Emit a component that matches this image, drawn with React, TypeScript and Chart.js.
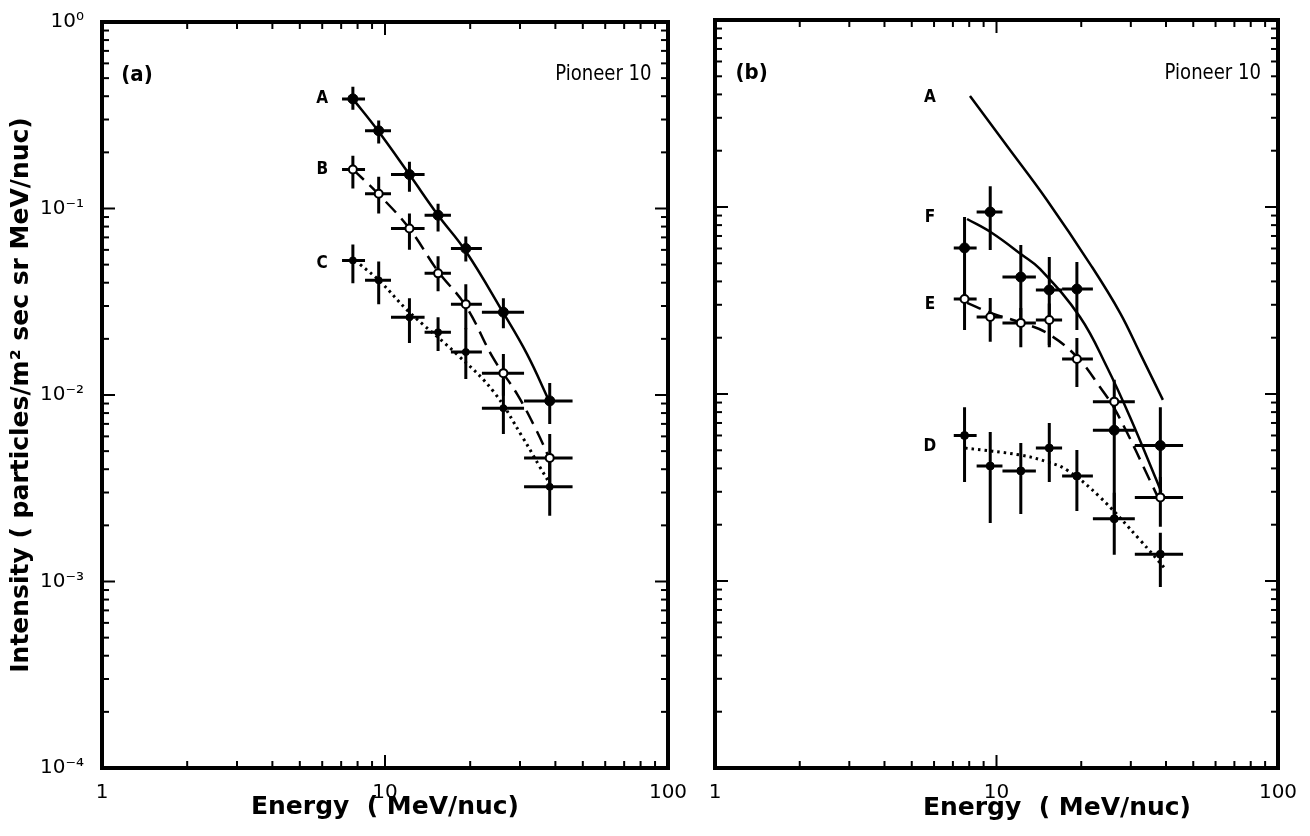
import React, { useEffect, useRef } from "react";
import { Chart, registerables } from "chart.js";
Chart.register(...registerables);

const FONT = "'DejaVu Sans', sans-serif";

// energy bins (MeV/nuc), shared by all series
const energy = [7.7, 9.5, 12.2, 15.4, 19.3, 26.2, 38.2];
const binLow = [7.05, 8.5, 10.5, 13.8, 17.1, 22.0, 31.0];
const binHigh = [8.5, 10.5, 13.8, 17.1, 22.0, 31.0, 46.0];

// ---- panel (a) ----
const aA = [0.387, 0.261, 0.152, 0.092, 0.061, 0.0278, 0.0093];
const aAlo = [0.338, 0.223, 0.123, 0.0753, 0.052, 0.0228, 0.007];
const aAhi = [0.449, 0.296, 0.178, 0.106, 0.0708, 0.033, 0.0116];
const aB = [0.162, 0.12, 0.0782, 0.0449, 0.0307, 0.0131, 0.0046];
const aBlo = [0.128, 0.094, 0.06, 0.036, 0.0225, 0.0099, 0.00334];
const aBhi = [0.192, 0.148, 0.094, 0.0554, 0.0392, 0.0166, 0.00618];
const aC = [0.0527, 0.0412, 0.0261, 0.0217, 0.017, 0.0085, 0.00322];
const aClo = [0.0397, 0.0307, 0.019, 0.0172, 0.0122, 0.00618, 0.00225];
const aChi = [0.0641, 0.052, 0.033, 0.0261, 0.0228, 0.0122, 0.00472];

const aCurveAx = [7.7, 9.45, 12.2, 15.4, 19.3, 26.1, 31.8, 38.0];
const aCurveAy = [0.387, 0.261, 0.152, 0.092, 0.059, 0.0278, 0.0165, 0.0093];
const aCurveBx = [7.7, 9.45, 12.2, 15.4, 19.3, 24.1, 29.3, 34.4, 38.0];
const aCurveBy = [0.162, 0.12, 0.078, 0.046, 0.03, 0.0158, 0.0101, 0.0064, 0.0046];
const aCurveCx = [8.16, 9.6, 12.1, 17.9, 24.1, 30.7, 35.3, 38.0];
const aCurveCy = [0.0502, 0.0407, 0.0281, 0.0166, 0.0105, 0.0059, 0.0041, 0.0034];

// ---- panel (b) ----
const bF = [0.0604, 0.094, 0.0422, 0.036, 0.0364, 0.0064, 0.0053];
const bFlo = [0.033, 0.0589, 0.024, 0.0183, 0.022, 0.0022, 0.0028];
const bFhi = [0.0885, 0.129, 0.0626, 0.054, 0.0508, 0.0095, 0.0085];
const bE = [0.0322, 0.0258, 0.024, 0.0249, 0.0154, 0.0091, 0.0028];
const bElo = [0.022, 0.019, 0.0178, 0.0178, 0.0109, 0.0064, 0.00195];
const bEhi = [0.0407, 0.0326, 0.0288, 0.0305, 0.0199, 0.0119, 0.0036];
const bD = [0.006, 0.00412, 0.00388, 0.00514, 0.00364, 0.00215, 0.00139];
const bDlo = [0.00338, 0.00204, 0.00228, 0.00338, 0.00237, 0.00138, 0.00093];
const bDhi = [0.0085, 0.00627, 0.00547, 0.007, 0.00502, 0.00296, 0.00181];

const bCurveAx = [8.05, 11.0, 15.1, 21.8, 27.5, 32.3, 39.0];
const bCurveAy = [0.392, 0.208, 0.109, 0.048, 0.0271, 0.0166, 0.0093];
const bCurveFx = [7.86, 9.64, 12.3, 14.3, 19.8, 24.7, 29.8, 38.5];
const bCurveFy = [0.0863, 0.0726, 0.0555, 0.0465, 0.0258, 0.0139, 0.00753, 0.003];
const bCurveEx = [7.86, 9.64, 12.3, 15.1, 19.3, 23.3, 26.8, 36.0, 38.8];
const bCurveEy = [0.0307, 0.027, 0.024, 0.0212, 0.0158, 0.0109, 0.0079, 0.00318, 0.0025];
const bCurveDx = [7.73, 12.1, 15.2, 17.8, 23.3, 32.3, 40.0];
const bCurveDy = [0.00514, 0.00472, 0.00433, 0.00392, 0.00281, 0.00166, 0.00115];

// tick values
const xMajor = [1, 10, 100];
const yMajor = [1e-4, 1e-3, 1e-2, 1e-1, 1];

const X_TITLE = "Energy  ( MeV/nuc)";
const Y_TITLE = "Intensity ( particles/m² sec sr MeV/nuc)";

const SUP: Record<string, string> = { "0": "⁰", "1": "¹", "2": "²", "3": "³", "4": "⁴", "-": "⁻" };
const supLabel = (v: number) =>
  "10" + String(Math.round(Math.log10(v))).split("").map((c) => SUP[c] || c).join("");

const xy = (xs: number[], ys: number[]) => xs.map((x, i) => ({ x, y: ys[i] }));

function pointSet(label: string, ys: number[], lo: number[], hi: number[], open: boolean, r: number) {
  return {
    type: "scatter",
    label,
    data: xy(energy, ys),
    errLo: lo,
    errHi: hi,
    showLine: false,
    pointRadius: r,
    pointStyle: "circle",
    pointBackgroundColor: open ? "#fff" : "#000",
    pointBorderColor: "#000",
    pointBorderWidth: open ? 2 : 1,
    order: 1,
  };
}

function curveSet(label: string, xs: number[], ys: number[], dash: number[], width = 2.5) {
  return {
    type: "line",
    label,
    data: xy(xs, ys),
    showLine: true,
    pointRadius: 0,
    borderColor: "#000",
    borderWidth: width,
    borderDash: dash,
    tension: 0.4,
    fill: false,
    order: 2,
  };
}

const errorBars = {
  id: "errorBars",
  beforeDatasetsDraw(chart: any) {
    const { ctx, scales } = chart;
    const xs = scales.x, ys = scales.y;
    ctx.save();
    ctx.strokeStyle = "#000";
    ctx.lineWidth = 3;
    ctx.lineCap = "butt";
    chart.data.datasets.forEach((ds: any) => {
      if (!ds.errLo) return;
      ds.data.forEach((p: any, i: number) => {
        const x = xs.getPixelForValue(p.x);
        const y = ys.getPixelForValue(p.y);
        ctx.beginPath();
        ctx.moveTo(xs.getPixelForValue(binLow[i]), y);
        ctx.lineTo(xs.getPixelForValue(binHigh[i]), y);
        ctx.moveTo(x, ys.getPixelForValue(ds.errLo[i]));
        ctx.lineTo(x, ys.getPixelForValue(ds.errHi[i]));
        ctx.stroke();
      });
    });
    ctx.restore();
  },
};

const frameTicks = {
  id: "frameTicks",
  afterDatasetsDraw(chart: any) {
    const { ctx, chartArea: ca, scales } = chart;
    const xs = scales.x, ys = scales.y;
    ctx.save();
    ctx.strokeStyle = "#000";
    ctx.lineWidth = 2;
    const seg = (x1: number, y1: number, x2: number, y2: number) => {
      ctx.beginPath();
      ctx.moveTo(x1, y1);
      ctx.lineTo(x2, y2);
      ctx.stroke();
    };
    for (let d = 1; d <= 10; d *= 10) {
      for (let k = 1; k <= 9; k++) {
        const v = k * d;
        const len = k === 1 ? 13 : 7;
        const px = xs.getPixelForValue(v);
        seg(px, ca.bottom, px, ca.bottom - len);
        seg(px, ca.top, px, ca.top + len);
      }
    }
    for (let d = 1e-4; d < 1; d *= 10) {
      for (let k = 1; k <= 9; k++) {
        const v = k * d;
        const len = k === 1 ? 13 : 7;
        const py = ys.getPixelForValue(v);
        seg(ca.left, py, ca.left + len, py);
        seg(ca.right, py, ca.right - len, py);
      }
    }
    ctx.lineWidth = 4;
    ctx.strokeRect(ca.left, ca.top, ca.right - ca.left, ca.bottom - ca.top);
    ctx.restore();
  },
};

const annotations = {
  id: "annots",
  afterDatasetsDraw(chart: any, _args: any, opts: any) {
    const { ctx, scales, chartArea: ca } = chart;
    ctx.save();
    ctx.fillStyle = "#000";
    ctx.textBaseline = "middle";
    (opts.items || []).forEach((it: any) => {
      const px = scales.x.getPixelForValue(it.x);
      const py = scales.y.getPixelForValue(it.y);
      ctx.save();
      ctx.font = it.font;
      ctx.textAlign = it.align || "center";
      ctx.translate(px, py);
      ctx.scale(it.sx || 1, 1);
      ctx.fillText(it.text, 0, 0);
      ctx.restore();
    });
    if (opts.xTitle) {
      const t = opts.xTitle;
      ctx.font = t.font;
      ctx.textAlign = "center";
      ctx.fillText(t.text, scales.x.getPixelForValue(t.x), ca.bottom + t.dy);
    }
    ctx.restore();
  },
};

const tagFont = `bold 22px ${FONT}`;
const nameFont = `21px ${FONT}`;
const letterFont = `bold 17px ${FONT}`;
const titleFont = { family: FONT, size: 25, weight: "bold" };

function makeConfig(panel: "a" | "b") {
  const datasets: any[] =
    panel === "a"
      ? [
          curveSet("A curve", aCurveAx, aCurveAy, []),
          curveSet("B curve", aCurveBx, aCurveBy, [15, 8]),
          curveSet("C curve", aCurveCx, aCurveCy, [2.5, 4], 3),
          pointSet("A", aA, aAlo, aAhi, false, 5),
          pointSet("B", aB, aBlo, aBhi, true, 4),
          pointSet("C", aC, aClo, aChi, false, 3.5),
        ]
      : [
          curveSet("A curve", bCurveAx, bCurveAy, []),
          curveSet("F curve", bCurveFx, bCurveFy, []),
          curveSet("E curve", bCurveEx, bCurveEy, [15, 8]),
          curveSet("D curve", bCurveDx, bCurveDy, [2.5, 4], 3),
          pointSet("F", bF, bFlo, bFhi, false, 5),
          pointSet("E", bE, bElo, bEhi, true, 4),
          pointSet("D", bD, bDlo, bDhi, false, 4),
        ];
  const items =
    panel === "a"
      ? [
          { text: "(a)", x: 1.33, y: 0.52, font: tagFont, sx: 0.9 },
          { text: "Pioneer 10", x: 87.5, y: 0.52, font: nameFont, align: "right", sx: 0.86 },
          { text: "A", x: 6.0, y: aA[0], font: letterFont, sx: 0.9 },
          { text: "B", x: 6.0, y: aB[0], font: letterFont, sx: 0.9 },
          { text: "C", x: 6.0, y: aC[0] * 0.96, font: letterFont, sx: 0.9 },
        ]
      : [
          { text: "(b)", x: 1.35, y: 0.52, font: tagFont, sx: 0.9 },
          { text: "Pioneer 10", x: 87.0, y: 0.52, font: nameFont, align: "right", sx: 0.86 },
          { text: "A", x: 5.8, y: 0.387, font: letterFont, sx: 0.9 },
          { text: "F", x: 5.8, y: 0.0873, font: letterFont, sx: 0.9 },
          { text: "E", x: 5.8, y: 0.0299, font: letterFont, sx: 0.9 },
          { text: "D", x: 5.8, y: 0.00521, font: letterFont, sx: 0.9 },
        ];
  const xTitle =
    panel === "b" ? { text: X_TITLE, x: 16.4, dy: 40, font: `bold 25px ${FONT}` } : null;
  return {
    type: "scatter",
    data: { datasets },
    plugins: [errorBars, frameTicks, annotations],
    options: {
      responsive: false,
      animation: false,
      events: [],
      layout: { padding: { top: 20, right: 32, left: 0, bottom: 0 } },
      plugins: {
        legend: { display: false },
        tooltip: { enabled: false },
        annots: { items, xTitle },
      },
      scales: {
        x: {
          type: "logarithmic",
          min: 1,
          max: 100,
          grid: { display: false },
          border: { display: false },
          afterBuildTicks: (s: any) => {
            s.ticks = xMajor.map((v) => ({ value: v }));
          },
          afterFit: (s: any) => {
            s.height = 68;
          },
          ticks: {
            color: "#000",
            font: { family: FONT, size: 20 },
            padding: 5,
            maxRotation: 0,
            autoSkip: false,
            callback: (v: any) => String(v),
          },
          title: {
            display: panel === "a",
            text: X_TITLE,
            color: "#000",
            font: titleFont,
            padding: { top: 2, bottom: 14 },
          },
        },
        y: {
          type: "logarithmic",
          min: 1e-4,
          max: 1,
          grid: { display: false },
          border: { display: false },
          afterBuildTicks: (s: any) => {
            s.ticks = yMajor.map((v) => ({ value: v }));
          },
          afterFit: (s: any) => {
            s.width = panel === "a" ? 102 : 15;
          },
          ticks: {
            display: panel === "a",
            color: "#000",
            font: { family: FONT, size: 20 },
            padding: 10,
            autoSkip: false,
            callback: (v: any) => supLabel(Number(v)),
          },
          title: {
            display: panel === "a",
            text: Y_TITLE,
            color: "#000",
            font: titleFont,
            padding: { top: 6, bottom: 0 },
          },
        },
      },
    },
  };
}

function Panel({ panel, left, width }: { panel: "a" | "b"; left: number; width: number }) {
  const ref = useRef<HTMLCanvasElement | null>(null);
  useEffect(() => {
    if (!ref.current) return;
    const chart = new Chart(ref.current, makeConfig(panel) as any);
    return () => chart.destroy();
  }, [panel]);
  return (
    <canvas
      ref={ref}
      width={width}
      height={836}
      style={{ position: "absolute", left, top: 0, width, height: 836 }}
    />
  );
}

export default function App() {
  return (
    <div style={{ position: "fixed", left: 0, top: 0, width: 1310, height: 836, background: "#fff" }}>
      <Panel panel="a" left={0} width={700} />
      <Panel panel="b" left={700} width={610} />
    </div>
  );
}
